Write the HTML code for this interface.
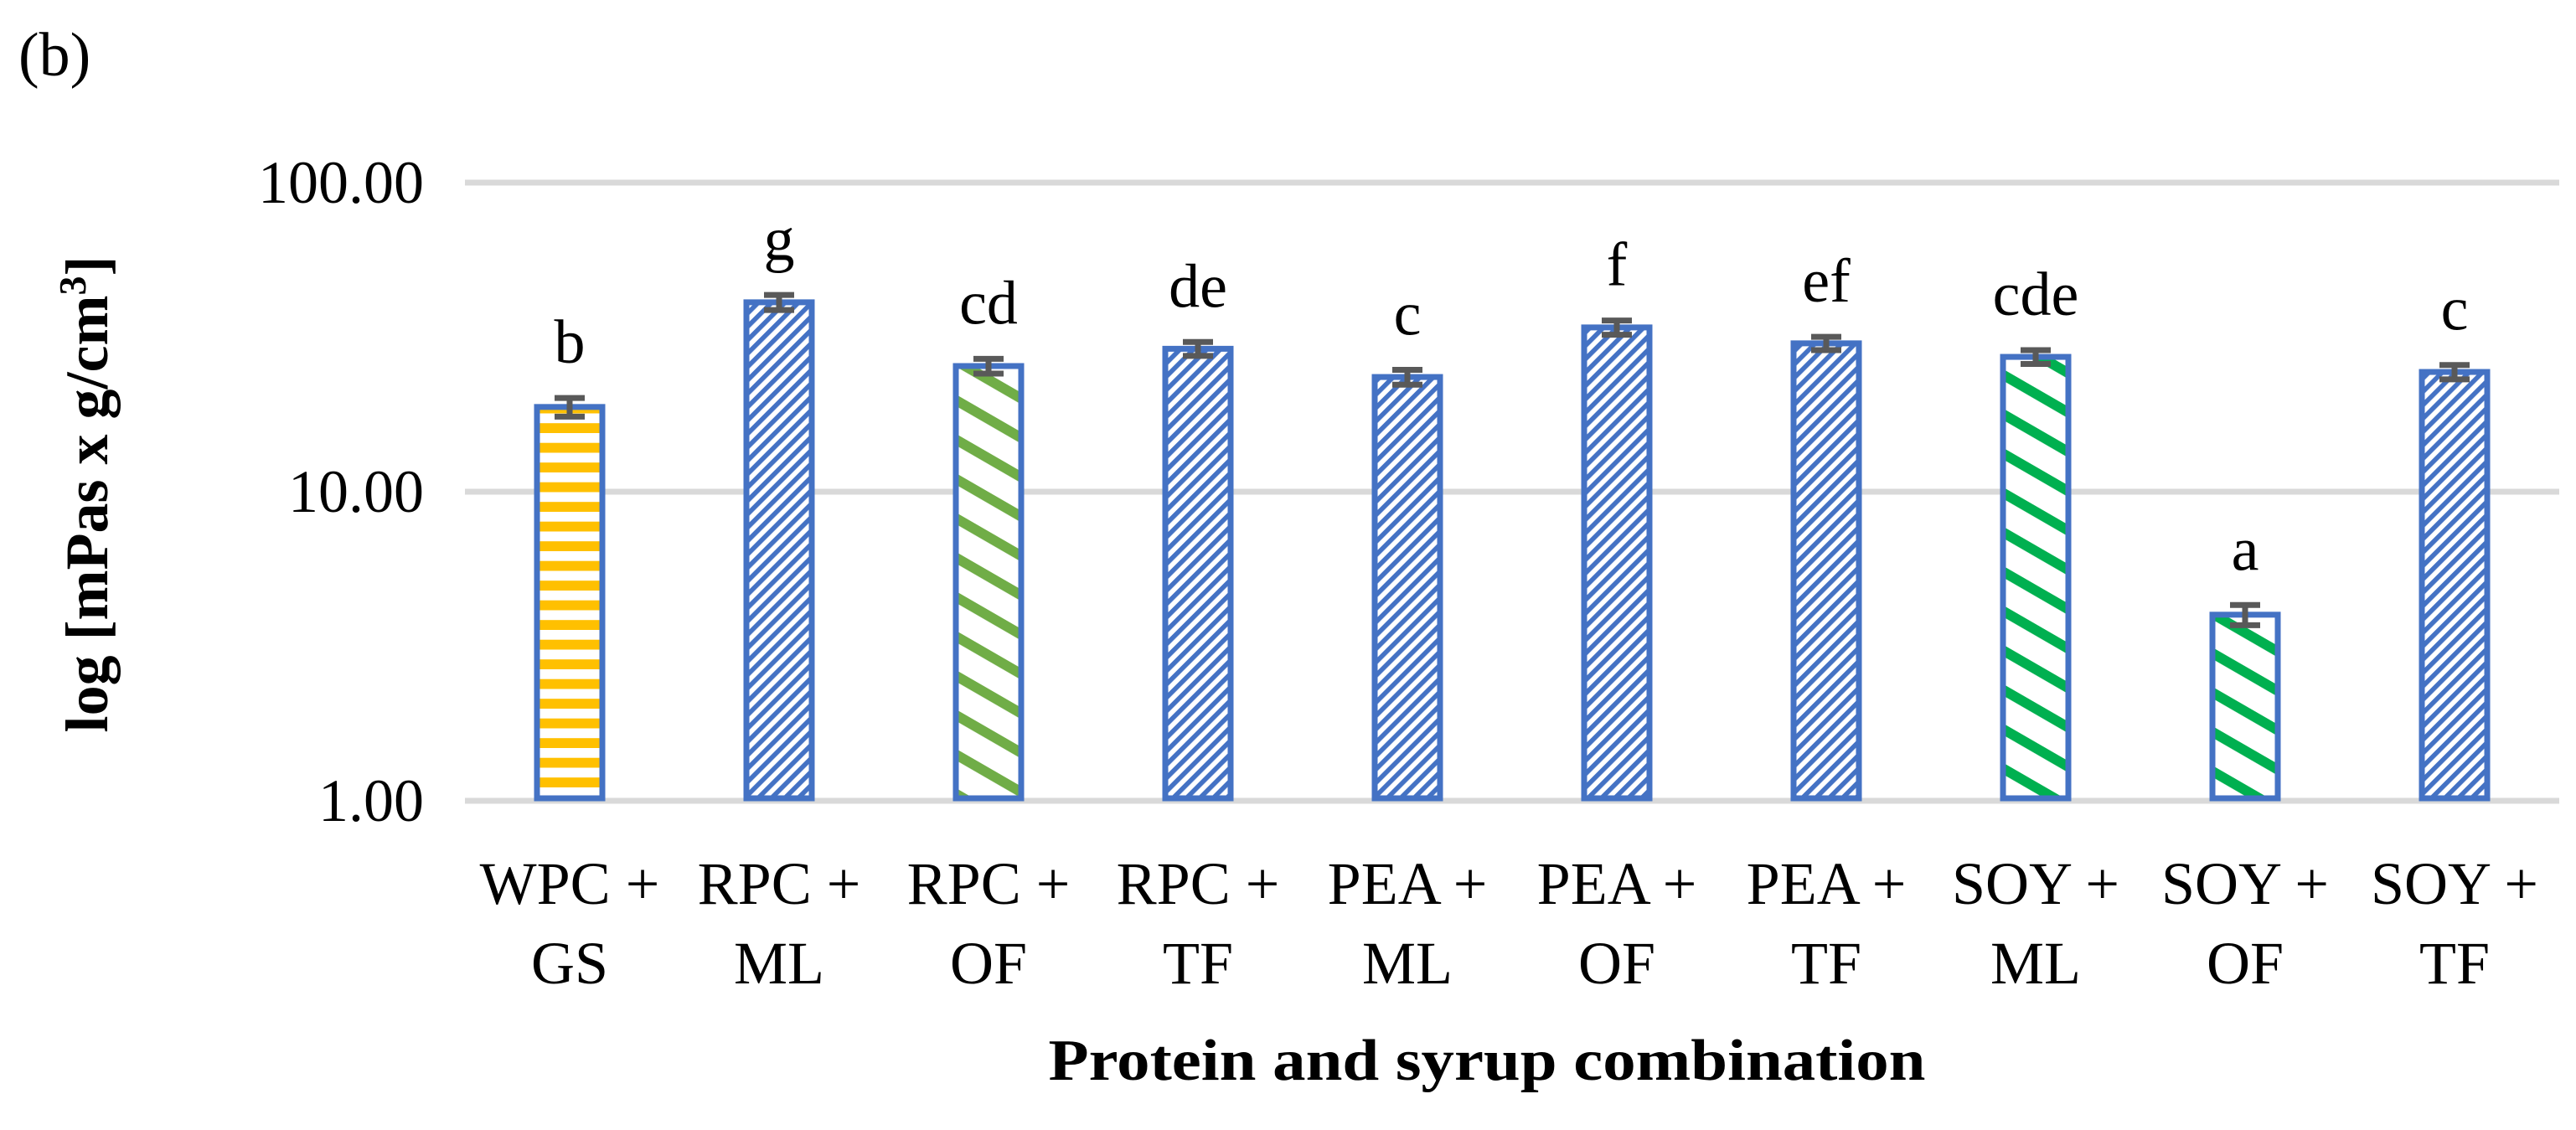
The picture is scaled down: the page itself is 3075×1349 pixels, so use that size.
<!DOCTYPE html>
<html><head><meta charset="utf-8"><style>
html,body{margin:0;padding:0;background:#fff;}
svg{display:block;font-family:"Liberation Serif",serif;}
</style></head><body>
<svg id="chart" width="3075" height="1349" viewBox="0 0 3075 1349" xmlns="http://www.w3.org/2000/svg">
<defs>
<pattern id="pBlue" patternUnits="userSpaceOnUse" width="11.3" height="11.3" patternTransform="rotate(-45)">
<rect width="11.3" height="11.3" fill="#fff"/><rect width="11.3" height="5.6" fill="#4472C4"/></pattern>
<pattern id="pOlive" patternUnits="userSpaceOnUse" width="40.7" height="40.7" patternTransform="rotate(30)">
<rect width="40.7" height="40.7" fill="#fff"/><rect width="40.7" height="12" fill="#70AD47"/></pattern>
<pattern id="pGreen" patternUnits="userSpaceOnUse" width="40.7" height="40.7" patternTransform="rotate(30)">
<rect width="40.7" height="40.7" fill="#fff"/><rect width="40.7" height="12" fill="#00B050"/></pattern>
<pattern id="pYellow" patternUnits="userSpaceOnUse" width="23.5" height="23.5">
<rect width="23.5" height="23.5" fill="#fff"/><rect y="11.7" width="23.5" height="11.8" fill="#FFC000"/></pattern>
</defs>
<text x="22" y="90" font-size="74">(b)</text>
<text transform="translate(128,590) rotate(-90)" text-anchor="middle" font-size="72" font-weight="bold">log [mPas x g/cm<tspan font-size="46" dy="-26">3</tspan><tspan dy="26">]</tspan></text>
<text x="1775" y="1289" text-anchor="middle" font-size="70" font-weight="bold" textLength="1047" lengthAdjust="spacingAndGlyphs">Protein and syrup combination</text>
<g id="grid"></g>
<g id="bars"></g>
</svg>
<script>
const line1 = ["WPC +","RPC +","RPC +","RPC +","PEA +","PEA +","PEA +","SOY +","SOY +","SOY +"];
const line2 = ["GS","ML","OF","TF","ML","OF","TF","ML","OF","TF"];
const values = [18.8, 41, 25.5, 29, 23.5, 34, 30.2, 27.3, 4.0, 24.4];
const errors = [1.3, 2.3, 1.4, 1.5, 1.3, 1.8, 1.5, 1.4, 0.3, 1.3];
const letters = ["b","g","cd","de","c","f","ef","cde","a","c"];
const fills = ["pYellow","pBlue","pOlive","pBlue","pBlue","pBlue","pBlue","pGreen","pGreen","pBlue"];
const ticks = [1, 10, 100];
const tickLabels = ["1.00","10.00","100.00"];

const NS="http://www.w3.org/2000/svg";
const left=555, right=3055, yTop=218, yBot=956;
const yScale = v => yBot - (Math.log10(v) - 0) / 2 * (yBot - yTop);
const band = (right-left)/values.length;
const xCenter = i => left + band*(i+0.5);
function mk(tag, attrs, parent){const e=document.createElementNS(NS,tag);for(const k in attrs)e.setAttribute(k,attrs[k]);parent.appendChild(e);return e;}
const grid=document.getElementById('grid'), bars=document.getElementById('bars');
ticks.forEach((t,i)=>{
  const y=yScale(t);
  const g=mk('line',{x1:left,x2:right,y1:y,y2:y,stroke:'#D9D9D9','stroke-width':7},grid);
  
  
  const tx=mk('text',{x:506,y:y+24,'text-anchor':'end','font-size':72},grid);
  tx.textContent=tickLabels[i];
  
  
});
const bw=78;
values.forEach((v,i)=>{
  const cx=xCenter(i), yt=yScale(v);
  const r=mk('rect',{x:cx-bw/2,y:yt,width:bw,height:yBot-3-yt,fill:'url(#'+fills[i]+')',stroke:'#4472C4','stroke-width':7},bars);
  
  
  const y1=yScale(v+errors[i]), y2=yScale(v-errors[i]);
  const eg=mk('g',{stroke:'#595959','stroke-width':7},bars);
  
  
  mk('line',{x1:cx,x2:cx,y1:y1,y2:y2},eg);
  mk('line',{x1:cx-18,x2:cx+18,y1:y1,y2:y1},eg);
  mk('line',{x1:cx-18,x2:cx+18,y1:y2,y2:y2},eg);
  const lt=mk('text',{x:cx,y:y1-42,'text-anchor':'middle','font-size':74},bars);
  lt.textContent=letters[i];
  
  
  const a=mk('text',{x:cx,y:1079,'text-anchor':'middle','font-size':72},bars);
  a.textContent=line1[i];
  
  
  const b=mk('text',{x:cx,y:1174,'text-anchor':'middle','font-size':72},bars);
  b.textContent=line2[i];
  
  
});
</script>
</body></html>
